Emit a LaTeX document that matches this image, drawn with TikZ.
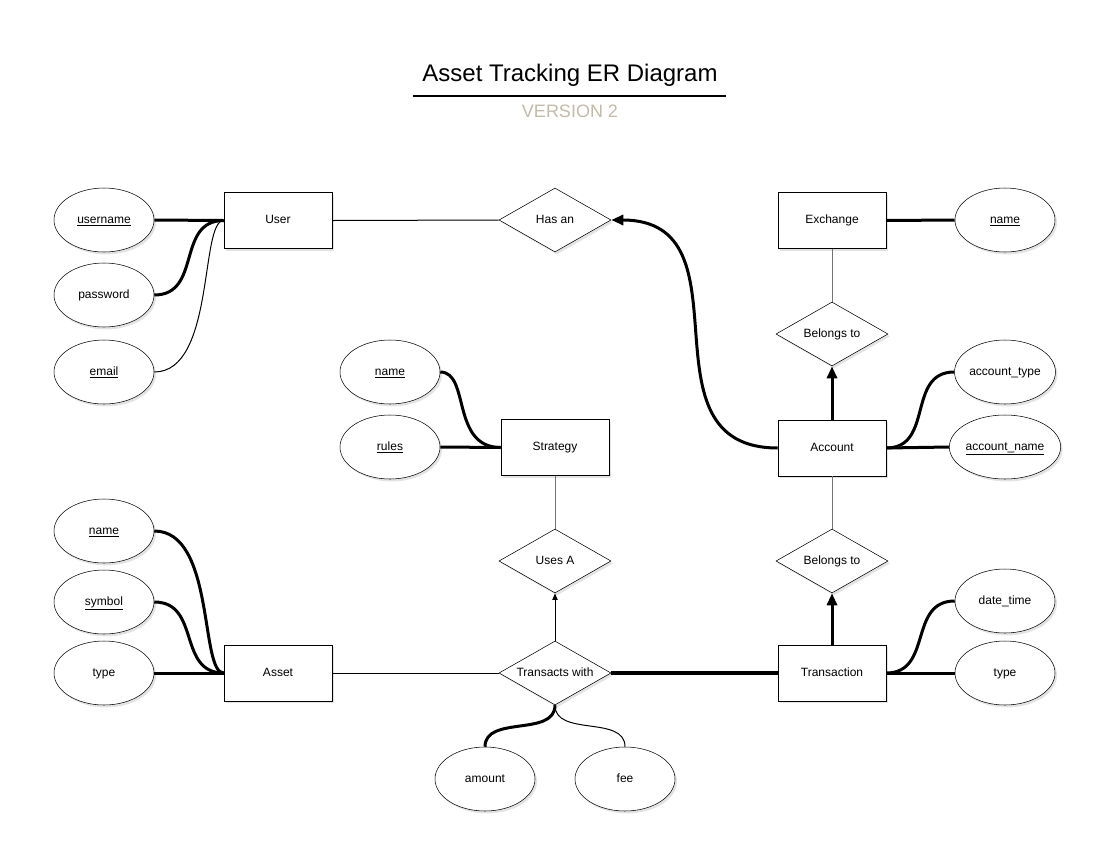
\documentclass[tikz,border=0pt]{standalone}
\usepackage{fontspec}
\setmainfont{Liberation Sans}
\usepackage{xcolor}
\usetikzlibrary{shapes.geometric,arrows.meta,shadows}

\definecolor{versiongray}{RGB}{196,186,168}

\begin{document}
\begin{tikzpicture}[x=0.75pt,y=-0.75pt,
    font=\fontsize{9}{11}\selectfont,
    shade/.style={drop shadow={opacity=0.22,shadow xshift=1.5pt,shadow yshift=-1.8pt}},
    box/.style={text height=6.8pt,text depth=2pt},
    ent/.style={draw,fill=white,minimum width=81pt,minimum height=42pt,box,shade},
    attr/.style={draw,ellipse,fill=white,minimum width=75pt,minimum height=48pt,inner sep=0pt,box,shade},
    rel/.style={draw,diamond,fill=white,minimum width=84pt,minimum height=48pt,inner sep=0pt,aspect=1.75,box,shade},
    weak/.style={line width=0.75pt},
    faint/.style={line width=0.75pt,draw=black!55},
    strong/.style={line width=2.25pt},
    bigtip/.style={-{Triangle[length=9pt,width=7.5pt]}},
    smalltip/.style={-{Triangle[length=5pt,width=4pt]}}]
\useasboundingbox (0,0) rectangle (1111,861);

% title
\node (title) at (570,75) {\fontsize{18}{22}\selectfont Asset Tracking ER Diagram};
\draw[line width=1.5pt] (413,96) -- (726,96);
\node[text=versiongray] (version) at (570,111) {\fontsize{13.5}{16}\selectfont VERSION 2};

% entities
\node[ent] (user) at (278,220.5) {User};
\node[ent] (exchange) at (832,220.5) {Exchange};
\node[ent] (strategy) at (555,447.5) {Strategy};
\node[ent] (account) at (832,448) {Account};
\node[ent] (asset) at (278,673) {Asset};
\node[ent] (transaction) at (832,673) {Transaction};

% relations
\node[rel] (hasan) at (555,220) {Has an};
\node[rel] (belongsup) at (832,334) {Belongs to};
\node[rel] (usesa) at (555,561) {Uses A};
\node[rel] (belongsdown) at (832,561) {Belongs to};
\node[rel] (transacts) at (555,673) {Transacts with};

% attributes
\node[attr] (username) at (104,220) {\underline{username}};
\node[attr] (password) at (104,295) {password};
\node[attr] (email) at (104,372) {\underline{email}};
\node[attr] (exname) at (1005,220) {\underline{name}};
\node[attr] (stname) at (390,372) {\underline{name}};
\node[attr] (rules) at (390,447) {\underline{rules}};
\node[attr] (acctype) at (1005,372) {account\_type};
\node[attr] (accname) at (1005,447) {\underline{account\_name}};
\node[attr] (asname) at (104,531) {\underline{name}};
\node[attr] (symbol) at (104,602) {\underline{symbol}};
\node[attr] (astype) at (104,673) {type};
\node[attr] (datetime) at (1005,601) {date\_time};
\node[attr] (trtype) at (1005,673) {type};
\node[attr] (amount) at (485,779) {amount};
\node[attr] (fee) at (625,779) {fee};

% user
\draw[strong] (username.east) -- (user.west);
\draw[strong] (password.east) to[out=0,in=180,looseness=1.2] (user.west);
\draw[weak] (email.east) .. controls +(61,0) and +(-24,0) .. (user.west);
\draw[weak] (user.east) -- (hasan.west);
\draw[strong,bigtip] (account.west) to[out=180,in=0,looseness=1.3] (hasan.east);

% exchange and account
\draw[strong] (exchange.east) -- (exname.west);
\draw[faint] (exchange.south) -- (belongsup.north);
\draw[strong,bigtip] (account.north) -- (belongsup.south);
\draw[strong] (account.east) to[out=0,in=180,looseness=1.2] (acctype.west);
\draw[strong] (account.east) -- (accname.west);
\draw[faint] (account.south) -- (belongsdown.north);

% strategy
\draw[strong] (stname.east) .. controls +(30,0) and +(-50,0) .. (strategy.west);
\draw[strong] (rules.east) -- (strategy.west);
\draw[faint] (strategy.south) -- (usesa.north);

% asset and transaction
\draw[strong] (asname.east) .. controls +(61,0) and +(-24,0) .. (asset.west);
\draw[strong] (symbol.east) to[out=0,in=180,looseness=1.2] (asset.west);
\draw[strong] (astype.east) -- (asset.west);
\draw[weak] (asset.east) -- (transacts.west);
\draw[line width=3pt] (transacts.east) -- (transaction.west);
\draw[weak,smalltip] (transacts.north) -- (usesa.south);
\draw[strong,bigtip] (transaction.north) -- (belongsdown.south);
\draw[strong] (transaction.east) to[out=0,in=180,looseness=1.2] (datetime.west);
\draw[strong] (transaction.east) -- (trtype.west);
\draw[strong] (transacts.south) to[out=-90,in=90] (amount.north);
\draw[weak] (transacts.south) to[out=-90,in=90] (fee.north);
\end{tikzpicture}
\end{document}
